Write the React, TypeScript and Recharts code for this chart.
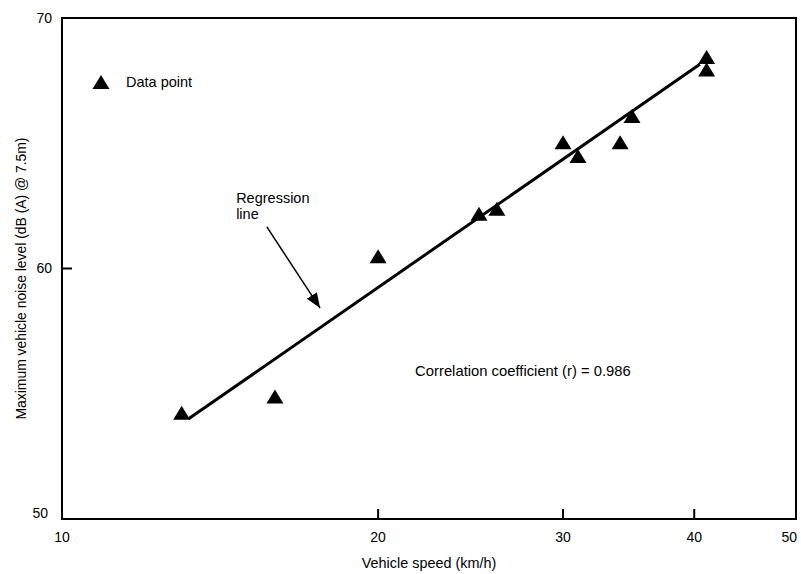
import React from 'react';
import {
  ScatterChart, Scatter, XAxis, YAxis, ReferenceLine, ReferenceArea, ReferenceDot, Label,
} from 'recharts';

const speeds = [13.0, 15.95, 20.0, 24.95, 25.95, 30.0, 31.0, 34.0, 34.9, 41.1, 41.1];
const levels = [54.2, 54.85, 60.45, 62.15, 62.35, 65.0, 64.45, 65.0, 66.05, 68.4, 67.9];
const xTicks = [10, 20, 30, 40, 50];
const yTicks = [50, 60, 70];
const regressionStart = { x: 13.2, y: 54.0 };
const regressionEnd = { x: 40.5, y: 68.15 };
const arrowStart = { x: 15.67, y: 61.66 };
const arrowEnd = { x: 17.61, y: 58.42 };
const regressionLabelPos = { x: 14.65, y: 62.6 };
const correlationPos = { x: 21.69, y: 55.7 };
const correlationText = 'Correlation coefficient (r) = 0.986';
const legendText = 'Data point';
const xLabel = 'Vehicle speed (km/h)';
const yLabel = 'Maximum vehicle noise level (dB (A) @ 7.5m)';

const data = speeds.map((s, i) => ({ speed: s, level: levels[i] }));

const FONT = '"Liberation Sans", Arial, Helvetica, sans-serif';

const Tri = (props: any) => {
  const { cx, cy } = props;
  if (cx == null || cy == null) return null;
  return <polygon points={`${cx},${cy - 8} ${cx - 8.5},${cy + 6} ${cx + 8.5},${cy + 6}`} fill="#000" />;
};

const XTick = (props: any) => {
  const { x, y, payload } = props;
  const last = payload.value === 50;
  return (
    <text x={last ? x + 1 : x} y={y} dy="0.71em" textAnchor={last ? 'end' : 'middle'} fill="#000" fontSize={14} fontFamily={FONT}>
      {payload.value}
    </text>
  );
};

const YTick = (props: any) => {
  const { x, y, payload } = props;
  const first = payload.value === 50;
  return (
    <text x={first ? x - 4 : x} y={first ? y - 6 : y} dy="0.355em" textAnchor="end" fill="#000" fontSize={14} fontFamily={FONT}>
      {payload.value}
    </text>
  );
};

export default function App() {
  return (
    <div style={{ position: 'absolute', left: 0, top: 0, width: 801, height: 574, background: '#fff', fontFamily: FONT }}>
      <ScatterChart width={801} height={574} margin={{ top: 18, right: 5, bottom: 0, left: 12 }}>
        <defs>
          <marker id="arrowhead" markerUnits="userSpaceOnUse" markerWidth="16" markerHeight="14" refX="15" refY="7" orient="auto">
            <path d="M0,1 L15,7 L0,13 Z" fill="#000" />
          </marker>
        </defs>
        <XAxis
          type="number"
          dataKey="speed"
          scale="log"
          domain={[10, 50]}
          ticks={xTicks}
          allowDataOverflow
          height={55}
          tickSize={-10}
          tickMargin={23}
          axisLine={{ stroke: '#000', strokeWidth: 2 }}
          tickLine={{ stroke: '#000', strokeWidth: 2 }}
          tick={<XTick />}
          interval={0}
        >
          <Label value={xLabel} position="insideBottom" offset={6} style={{ fill: '#000', fontSize: 14.4, fontFamily: FONT }} />
        </XAxis>
        <YAxis
          type="number"
          dataKey="level"
          domain={[50, 70]}
          ticks={yTicks}
          allowDataOverflow
          width={50}
          tickSize={-10}
          tickMargin={20}
          axisLine={{ stroke: '#000', strokeWidth: 2 }}
          tickLine={{ stroke: '#000', strokeWidth: 2 }}
          tick={<YTick />}
          interval={0}
        >
          <Label
            content={(p: any) => {
              const vb = p.viewBox || {};
              const cx = vb.x + 9;
              const cy = vb.y + vb.height / 2 + 10;
              return (
                <text x={cx} y={cy} transform={`rotate(-90 ${cx} ${cy})`} textAnchor="middle" dominantBaseline="central" fill="#000" fontSize={13.9} fontFamily={FONT}>
                  {yLabel}
                </text>
              );
            }}
          />
        </YAxis>
        <ReferenceArea x1={10} x2={50} y1={50} y2={70} fill="none" stroke="#000" strokeWidth={2} ifOverflow="visible" />
        <ReferenceLine
          segment={[regressionStart, regressionEnd]}
          stroke="#000"
          strokeWidth={3}
          ifOverflow="visible"
        />
        <ReferenceLine
          segment={[arrowStart, arrowEnd]}
          stroke="#000"
          strokeWidth={1.5}
          markerEnd="url(#arrowhead)"
          ifOverflow="visible"
        />
        <ReferenceDot
          x={regressionLabelPos.x}
          y={regressionLabelPos.y}
          r={0}
          ifOverflow="visible"
          label={{
            content: (p: any) => {
              const vb = p.viewBox || {};
              return (
                <text x={vb.x} y={vb.y} fill="#000" fontSize={14.5} fontFamily={FONT}>
                  <tspan x={vb.x} dy={0}>Regression</tspan>
                  <tspan x={vb.x} dy={16}>line</tspan>
                </text>
              );
            },
          }}
        />
        <ReferenceDot
          x={correlationPos.x}
          y={correlationPos.y}
          r={0}
          ifOverflow="visible"
          label={{
            content: (p: any) => {
              const vb = p.viewBox || {};
              return (
                <text x={vb.x} y={vb.y} fill="#000" fontSize={14.8} fontFamily={FONT}>
                  {correlationText}
                </text>
              );
            },
          }}
        />
        <Scatter data={data} shape={<Tri />} isAnimationActive={false} />
      </ScatterChart>
      <div style={{ position: 'absolute', left: 92, top: 74, display: 'flex', alignItems: 'center', fontSize: 14.5, color: '#000', fontFamily: FONT }}>
        <svg width={18} height={16} style={{ marginRight: 16 }}>
          <polygon points="9,1 0.5,15 17.5,15" fill="#000" />
        </svg>
        <span>{legendText}</span>
      </div>
    </div>
  );
}
